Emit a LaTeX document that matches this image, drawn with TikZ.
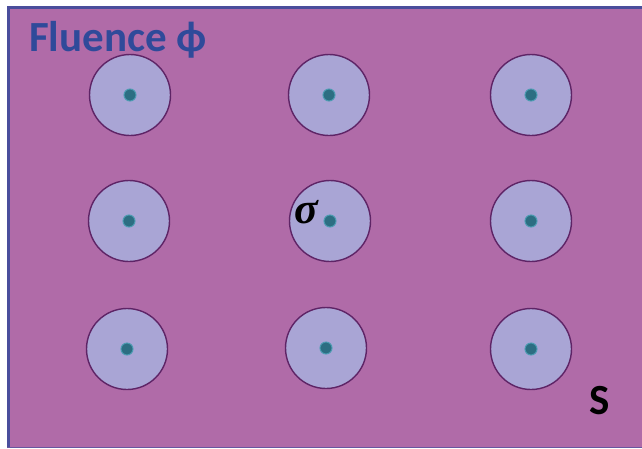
\documentclass[tikz,border=0pt]{standalone}
\usepackage{fontspec}
\setmainfont{Carlito}
\newfontfamily\serifgr{Liberation Serif}
\definecolor{bgpurple}{HTML}{B06BA8}
\definecolor{bordblue}{HTML}{4A4E9C}
\definecolor{cellfill}{HTML}{A9A5D5}
\definecolor{celledge}{HTML}{5E2466}
\definecolor{dotcol}{HTML}{2C6E82}
\definecolor{halo}{HTML}{4A9AB0}
\definecolor{titleblue}{HTML}{2F4A9A}
\tikzset{
  cell/.style={circle, draw=celledge, line width=1.4pt, fill=cellfill, minimum size=81pt, inner sep=0pt},
  nucleus/.style={circle, fill=dotcol, draw=halo, line width=1pt, minimum size=12pt, inner sep=0pt},
  lbl/.style={inner sep=0pt, anchor=base}
}
\begin{document}
\begin{tikzpicture}[x=1pt,y=-1pt]
\useasboundingbox (0,0) rectangle (642,448);
\fill[white] (0,0) rectangle (642,448);
\fill[bgpurple] (7,6) rectangle (642,448);
\draw[bordblue, line width=2.5pt] (8.25,448) -- (8.25,7.25) -- (642,7.25);
\draw[bordblue!70!bgpurple, line width=1.5pt] (7,447.25) -- (642,447.25);
\foreach \n/\x/\y in {a/130/95, b/329/95, c/531/95, d/129/221, e/330/221, f/531/221, g/127/349, h/326/348, i/531/349}{
  \node[cell] (c\n) at (\x,\y) {};
  \node[nucleus] (n\n) at (\x,\y) {};
}
\node[lbl, text=titleblue, font=\bfseries\fontsize{43}{47}\selectfont, anchor=base west] (title) at (29,51) {Fluence ϕ};
\node[lbl, font=\serifgr\bfseries\itshape\fontsize{44}{48}\selectfont, anchor=base west] (sigma) at (294,223) {σ};
\node[lbl, font=\bfseries\fontsize{43}{47}\selectfont, anchor=base west] (S) at (589,414) {S};
\end{tikzpicture}
\end{document}
